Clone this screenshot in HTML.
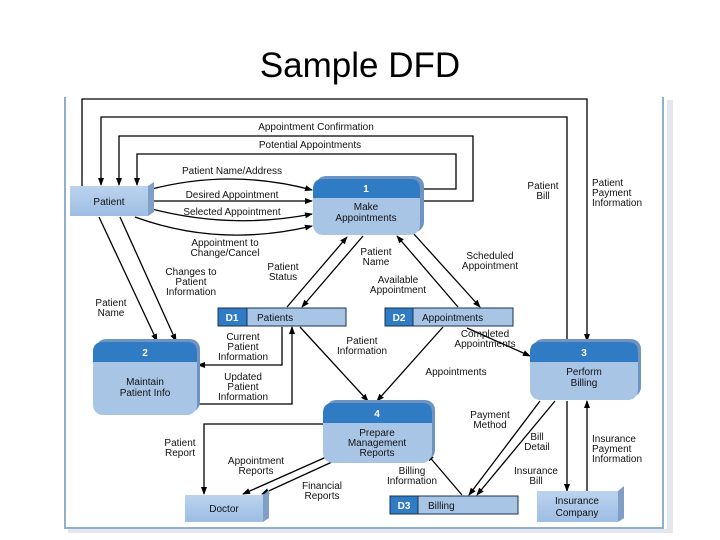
<!DOCTYPE html>
<html><head><style>
html,body{margin:0;padding:0;background:#fff;}
body{width:720px;height:540px;overflow:hidden;position:relative;}
.t{position:absolute;top:46px;left:0;width:720px;text-align:center;font-family:"Liberation Sans",sans-serif;font-size:35px;color:#000;}
svg{position:absolute;left:0;top:0;}
text{font-family:"Liberation Sans",sans-serif;font-size:10px;fill:#111;}
</style></head><body>
<div class="t">Sample DFD</div>
<svg width="720" height="540" viewBox="0 0 720 540">
<defs>
<marker id="a" markerWidth="8" markerHeight="8" refX="7" refY="4" orient="auto" markerUnits="userSpaceOnUse"><path d="M0,1 L8,4 L0,7 z" fill="#000"/></marker>
<linearGradient id="g" x1="0" y1="0" x2="0" y2="1"><stop offset="0" stop-color="#bcd3ee"/><stop offset="1" stop-color="#9dbde3"/></linearGradient>
</defs>
<rect x="667" y="100" width="6" height="432" fill="#e4e8ec"/>
<rect x="68" y="529" width="605" height="4" fill="#e4e8ec"/>
<path d="M65,97 V528 H663 V97" fill="none" stroke="#8fb0c8" stroke-width="2"/>

<g fill="none" stroke="#000" stroke-width="1.3">
<path d="M82,186 V99 H587 V341" marker-end="url(#a)"/>
<path d="M567,342 V117 H101 V185" marker-end="url(#a)"/>
<path d="M420,201 H473 V136 H119 V185" marker-end="url(#a)"/>
<path d="M420,189 H456 V154 H137 V185" marker-end="url(#a)"/>
<path d="M148,190 Q230,168 312,190" marker-end="url(#a)"/>
<path d="M148,201 H312" marker-end="url(#a)"/>
<path d="M148,208 Q230,230 312,214" marker-end="url(#a)"/>
<path d="M135,217 Q220,248 312,226" marker-end="url(#a)"/>
<path d="M99,217 L157,341" marker-end="url(#a)"/>
<path d="M120,217 L176,341" marker-end="url(#a)"/>
<path d="M287,307 L347,237" marker-end="url(#a)"/>
<path d="M363,236 L302,307" marker-end="url(#a)"/>
<path d="M458,307 L397,236" marker-end="url(#a)"/>
<path d="M413,233 L480,307" marker-end="url(#a)"/>
<path d="M282,327 V365 H198" marker-end="url(#a)"/>
<path d="M198,404 H292 V327" marker-end="url(#a)"/>
<path d="M300,327 L368,401" marker-end="url(#a)"/>
<path d="M443,327 L377,401" marker-end="url(#a)"/>
<path d="M467,328 L530,356" marker-end="url(#a)"/>
<path d="M323,424 H204 V494" marker-end="url(#a)"/>
<path d="M333,454 L243,494" marker-end="url(#a)"/>
<path d="M332,462 L262,494" marker-end="url(#a)"/>
<path d="M462,495 L427,454" marker-end="url(#a)"/>
<path d="M540,401 L469,495" marker-end="url(#a)"/>
<path d="M555,401 L477,495" marker-end="url(#a)"/>
<path d="M567,401 V491" marker-end="url(#a)"/>
<path d="M587,491 V401" marker-end="url(#a)"/>
</g>

<g>
<polygon points="148,186 154,182 154,212 148,216" fill="#7f9fc6"/>
<rect x="70" y="186" width="78" height="30" fill="url(#g)"/>
<text x="109" y="205" text-anchor="middle">Patient</text>
<polygon points="263,495 269,490 269,518 263,522" fill="#7f9fc6"/>
<rect x="185" y="495" width="78" height="27" fill="url(#g)"/>
<text x="224" y="512" text-anchor="middle">Doctor</text>
<polygon points="618,491 624,486 624,518 618,522" fill="#7f9fc6"/>
<rect x="537" y="491" width="81" height="31" fill="url(#g)"/>
<text x="577" y="504" text-anchor="middle">Insurance</text>
<text x="577" y="516" text-anchor="middle">Company</text>
</g>

<g>
<rect x="316" y="176" width="108" height="56" rx="10" fill="#6f94c2"/>
<rect x="313" y="179" width="107" height="56" rx="10" fill="#a9c5e6"/>
<path d="M313,198 V189 Q313,179 323,179 H410 Q420,179 420,189 V198 Z" fill="#2f7bc4"/>
<text x="366" y="192" text-anchor="middle" style="fill:#fff;font-weight:bold">1</text>
<text x="366" y="210" text-anchor="middle">Make</text>
<text x="366" y="221" text-anchor="middle">Appointments</text>

<rect x="96" y="339" width="104" height="73" rx="10" fill="#6f94c2"/>
<rect x="93" y="342" width="104" height="73" rx="10" fill="#a9c5e6"/>
<path d="M93,362 V352 Q93,342 103,342 H187 Q197,342 197,352 V362 Z" fill="#2f7bc4"/>
<text x="145" y="356" text-anchor="middle" style="fill:#fff;font-weight:bold">2</text>
<text x="145" y="385" text-anchor="middle">Maintain</text>
<text x="145" y="396" text-anchor="middle">Patient Info</text>

<rect x="533" y="339" width="108" height="58" rx="10" fill="#6f94c2"/>
<rect x="530" y="342" width="108" height="58" rx="10" fill="#a9c5e6"/>
<path d="M530,362 V352 Q530,342 540,342 H628 Q638,342 638,352 V362 Z" fill="#2f7bc4"/>
<text x="584" y="356" text-anchor="middle" style="fill:#fff;font-weight:bold">3</text>
<text x="584" y="375" text-anchor="middle">Perform</text>
<text x="584" y="386" text-anchor="middle">Billing</text>

<rect x="326" y="400" width="109" height="60" rx="10" fill="#6f94c2"/>
<rect x="323" y="403" width="109" height="60" rx="10" fill="#a9c5e6"/>
<path d="M323,423 V413 Q323,403 333,403 H422 Q432,403 432,413 V423 Z" fill="#2f7bc4"/>
<text x="377" y="417" text-anchor="middle" style="fill:#fff;font-weight:bold">4</text>
<text x="377" y="436" text-anchor="middle">Prepare</text>
<text x="377" y="446" text-anchor="middle">Management</text>
<text x="377" y="456" text-anchor="middle">Reports</text>
</g>

<g stroke="#1a3050" stroke-width="1">
<rect x="218" y="308" width="128" height="18" fill="#a9c5e6"/>
<rect x="218" y="308" width="29" height="18" fill="#2f7bc4"/>
<rect x="385" y="308" width="128" height="18" fill="#a9c5e6"/>
<rect x="385" y="308" width="28" height="18" fill="#2f7bc4"/>
<rect x="390" y="496" width="128" height="18" fill="#a9c5e6"/>
<rect x="390" y="496" width="28" height="18" fill="#2f7bc4"/>
</g>
<text x="232" y="321" text-anchor="middle" style="fill:#fff;font-weight:bold">D1</text>
<text x="257" y="321">Patients</text>
<text x="399" y="321" text-anchor="middle" style="fill:#fff;font-weight:bold">D2</text>
<text x="422" y="321">Appointments</text>
<text x="404" y="509" text-anchor="middle" style="fill:#fff;font-weight:bold">D3</text>
<text x="428" y="509">Billing</text>

<g text-anchor="middle">
<text x="316" y="130">Appointment Confirmation</text>
<text x="310" y="148">Potential Appointments</text>
<text x="232" y="174">Patient Name/Address</text>
<text x="232" y="198">Desired Appointment</text>
<text x="232" y="215">Selected Appointment</text>
<text x="225" y="246">Appointment to</text>
<text x="225" y="256">Change/Cancel</text>
<text x="191" y="275">Changes to</text>
<text x="191" y="285">Patient</text>
<text x="191" y="295">Information</text>
<text x="111" y="306">Patient</text>
<text x="111" y="316">Name</text>
<text x="283" y="270">Patient</text>
<text x="283" y="280">Status</text>
<text x="376" y="255">Patient</text>
<text x="376" y="265">Name</text>
<text x="398" y="283">Available</text>
<text x="398" y="293">Appointment</text>
<text x="490" y="259">Scheduled</text>
<text x="490" y="269">Appointment</text>
<text x="543" y="189">Patient</text>
<text x="543" y="199">Bill</text>
<text x="243" y="340">Current</text>
<text x="243" y="350">Patient</text>
<text x="243" y="360">Information</text>
<text x="243" y="380">Updated</text>
<text x="243" y="390">Patient</text>
<text x="243" y="400">Information</text>
<text x="362" y="344">Patient</text>
<text x="362" y="354">Information</text>
<text x="456" y="375">Appointments</text>
<text x="485" y="337">Completed</text>
<text x="485" y="347">Appointments</text>
<text x="180" y="446">Patient</text>
<text x="180" y="456">Report</text>
<text x="256" y="464">Appointment</text>
<text x="256" y="474">Reports</text>
<text x="322" y="489">Financial</text>
<text x="322" y="499">Reports</text>
<text x="412" y="474">Billing</text>
<text x="412" y="484">Information</text>
<text x="490" y="418">Payment</text>
<text x="490" y="428">Method</text>
<text x="537" y="440">Bill</text>
<text x="537" y="450">Detail</text>
<text x="536" y="474">Insurance</text>
<text x="536" y="484">Bill</text>
</g>
<text x="592" y="186">Patient</text>
<text x="592" y="196">Payment</text>
<text x="592" y="206">Information</text>
<text x="592" y="442">Insurance</text>
<text x="592" y="452">Payment</text>
<text x="592" y="462">Information</text>
</svg>
</body></html>
